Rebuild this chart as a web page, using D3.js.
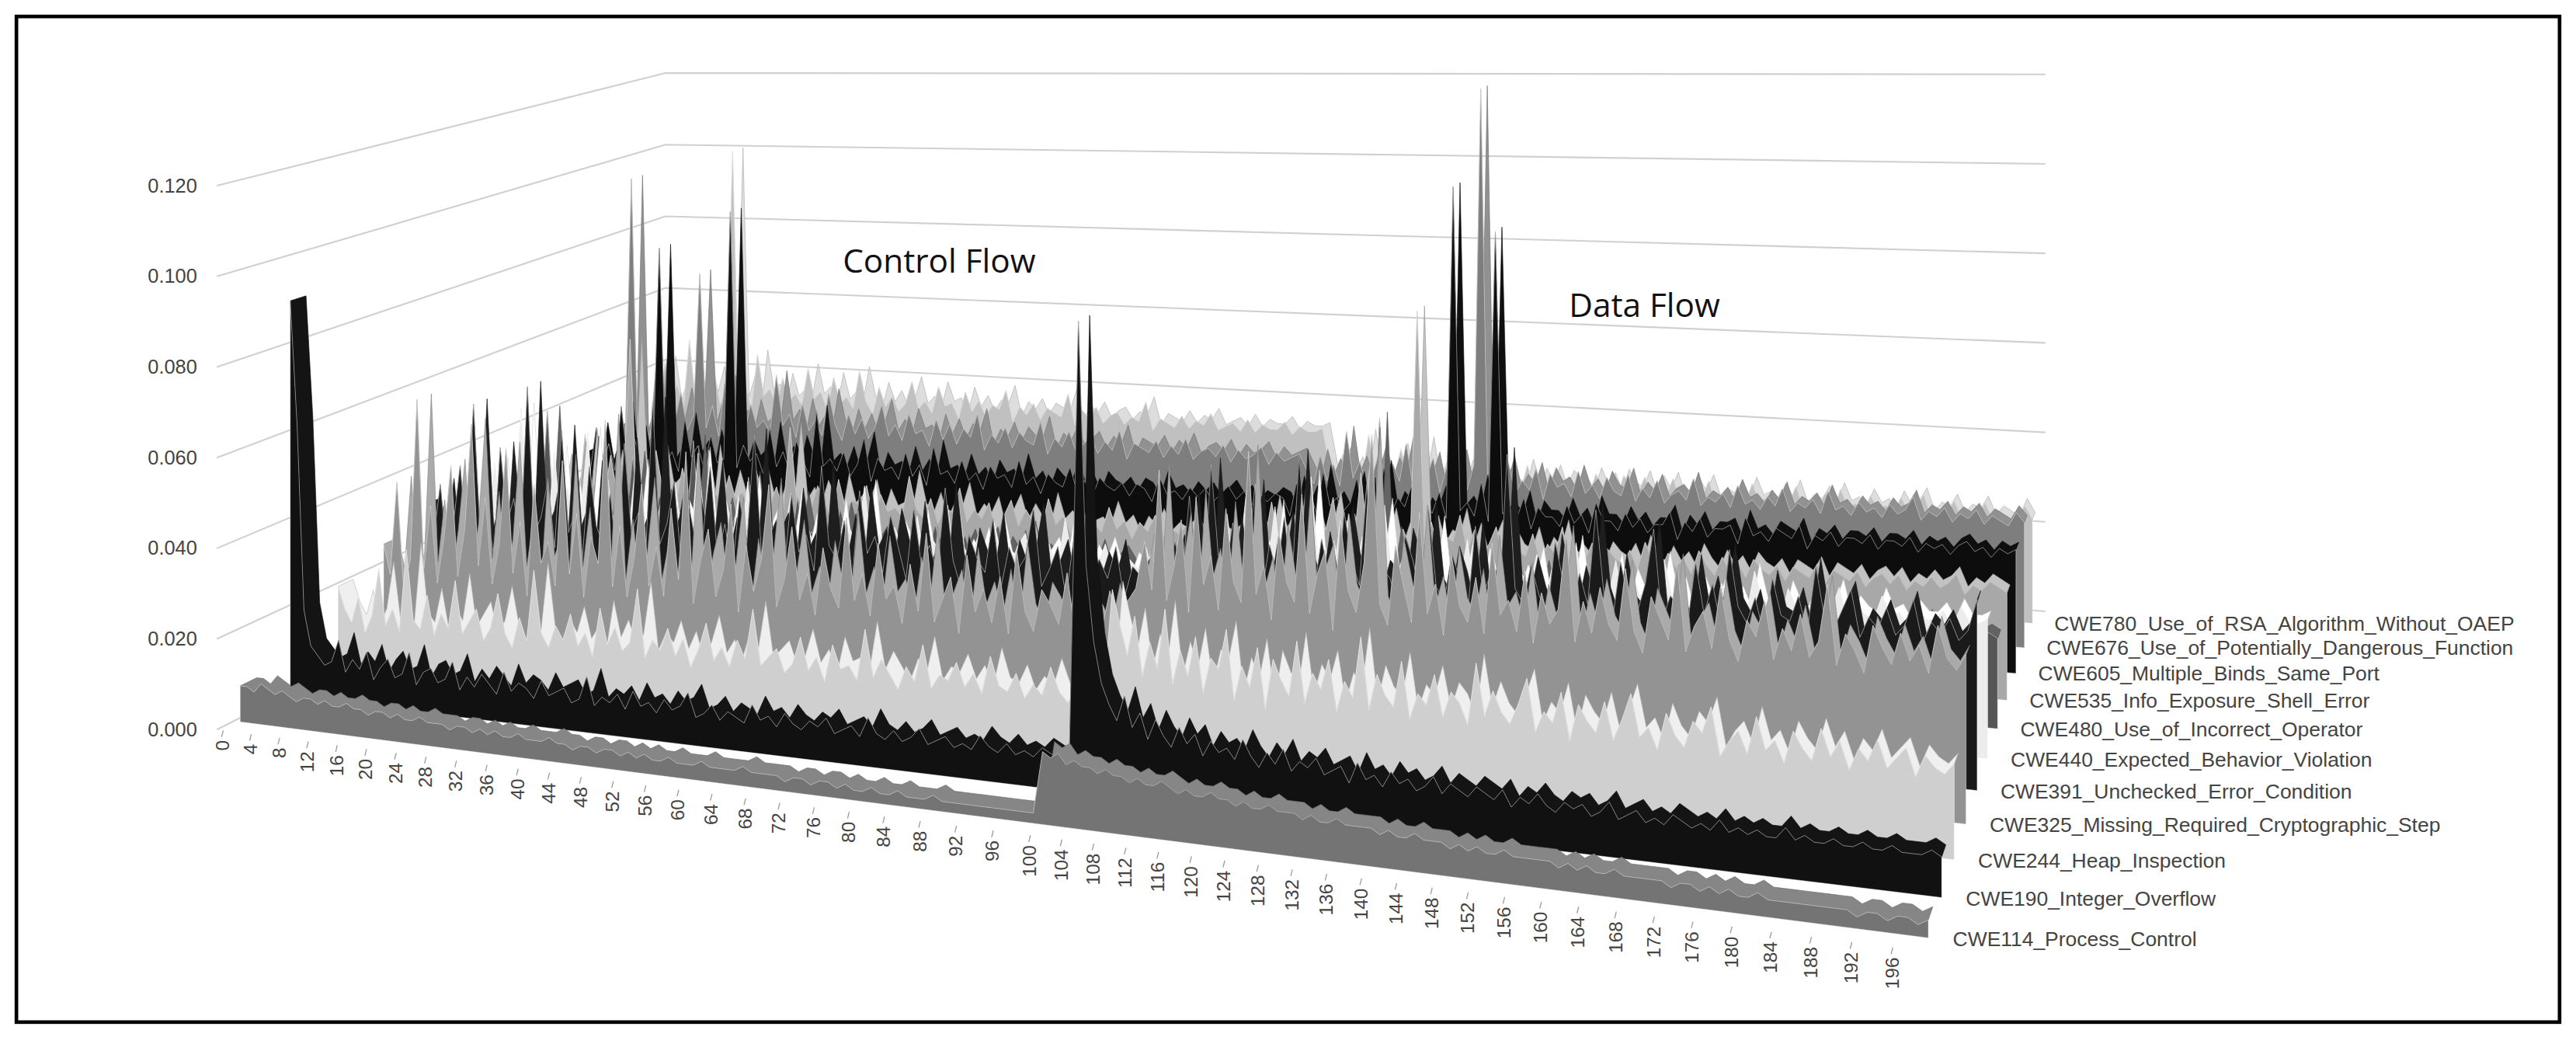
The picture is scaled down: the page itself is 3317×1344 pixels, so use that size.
<!DOCTYPE html>
<html><head><meta charset="utf-8">
<script src="https://cdn.jsdelivr.net/npm/d3@7"></script>
<style>body{margin:0;background:#fff}</style></head>
<body><svg id="c" width="3317" height="1344" viewBox="0 0 1568 635.3"></svg>
<script>
const seriesNames=["CWE114_Process_Control","CWE190_Integer_Overflow","CWE244_Heap_Inspection","CWE325_Missing_Required_Cryptographic_Step","CWE391_Unchecked_Error_Condition","CWE440_Expected_Behavior_Violation","CWE480_Use_of_Incorrect_Operator","CWE535_Info_Exposure_Shell_Error","CWE605_Multiple_Binds_Same_Port","CWE676_Use_of_Potentially_Dangerous_Function","CWE780_Use_of_RSA_Algorithm_Without_OAEP"];
const seriesColors=["#747474","#111111","#cfcfcf","#939393","#1a1a1a","#ececec","#565656","#a8a8a8","#0d0d0d","#7e7e7e","#c0c0c0"];
const yTicks=[0,0.02,0.04,0.06,0.08,0.1,0.12];
const yTickLabels=["0.000","0.020","0.040","0.060","0.080","0.100","0.120"];
// values in thousandths
const s0=[8,8,7,9,8,7,8,7,6,7,7,6,7,6,6,7,6,6,5,6,6,5,6,5,5,6,5,5,5,4,5,5,4,5,4,5,4,4,5,4,4,4,5,4,4,3,4,4,3,4,4,3,4,3,4,3,3,4,3,3,3,4,3,3,3,3,4,3,3,3,3,2,3,3,2,3,3,2,3,2,2,3,2,2,3,2,2,2,3,2,2,2,2,2,2,2,2,2,2,2,
14,13,14,12,13,12,12,11,12,11,11,10,11,10,10,11,10,9,10,9,9,10,9,9,8,9,8,8,9,8,8,8,7,8,7,7,8,7,7,7,7,6,7,6,6,7,6,6,6,5,6,5,6,5,5,6,5,5,5,5,5,4,5,4,5,4,4,5,4,4,4,4,4,3,4,4,3,4,3,4,3,3,4,3,3,3,3,3,3,3,3,3,2,3,3,2,3,3,2,3];
const s1=[90,62,20,12,10,8,9,14,7,10,8,12,6,9,11,7,8,13,6,9,10,7,8,12,6,9,7,10,8,6,11,7,9,8,6,10,7,8,9,6,7,12,6,8,7,9,6,10,7,8,6,9,7,8,11,6,7,9,6,8,7,6,10,7,8,6,9,7,6,8,7,9,6,7,8,6,10,7,6,8,6,7,9,6,7,8,6,7,6,9,7,6,8,6,7,6,8,7,6,7,
93,45,30,22,18,15,20,14,17,12,16,13,11,15,12,14,10,13,11,12,10,14,11,9,12,10,13,9,11,10,12,9,10,11,8,12,9,10,8,11,9,10,8,9,11,8,10,9,8,10,9,8,10,7,9,8,10,8,7,9,8,9,7,8,10,7,8,9,7,8,7,9,8,7,8,7,9,7,8,7,8,7,7,9,7,8,7,7,8,7,7,8,7,7,8,7,7,7,8,7];
const s2=[20,15,12,18,10,14,25,12,16,11,30,14,12,20,11,16,13,24,12,15,18,11,14,22,13,10,17,12,28,14,11,16,13,19,12,15,10,21,13,17,12,14,26,11,15,13,18,12,16,10,14,20,12,15,11,17,13,24,12,14,16,11,13,19,12,15,10,18,13,14,11,22,12,16,13,10,15,12,20,11,14,13,17,12,15,11,19,13,12,16,11,14,12,18,13,11,15,12,14,13,
35,28,22,30,18,25,20,32,17,24,19,27,16,23,21,29,15,22,18,26,14,24,20,17,28,16,22,19,25,15,21,18,30,16,23,19,17,26,15,20,18,24,16,21,19,15,27,17,22,18,16,20,25,15,19,17,23,14,21,18,16,22,15,19,24,16,18,14,21,17,15,20,18,23,14,17,19,15,22,16,18,14,20,17,15,21,16,19,14,18,16,20,15,17,19,14,18,16,15,17];
const s3=[25,18,40,15,22,60,20,35,17,28,45,19,30,55,22,38,18,27,50,21,33,16,42,24,29,19,48,22,36,17,31,25,58,20,34,18,27,44,21,30,19,39,23,52,18,28,35,20,26,41,17,32,22,29,46,19,25,37,21,27,18,33,24,20,40,22,28,19,35,23,26,18,31,21,38,19,24,29,17,34,22,27,20,30,18,36,23,19,28,25,21,32,18,26,24,20,29,22,27,30,
40,30,55,28,35,45,26,50,32,38,27,48,33,29,60,31,37,26,44,34,30,52,28,36,41,25,47,33,29,39,65,31,27,43,35,28,50,30,36,26,42,32,29,38,27,45,31,34,28,40,26,36,30,33,48,27,35,29,38,31,28,42,30,26,37,33,29,44,27,32,35,28,40,30,26,34,31,38,27,33,29,36,28,31,42,27,33,30,26,35,31,28,34,29,32,27,36,30,28,31];
const s4=[30,22,35,18,26,40,20,55,24,30,19,45,27,33,21,60,25,29,38,22,50,26,31,20,42,28,24,36,19,48,27,32,22,58,25,30,40,21,35,26,28,44,23,31,20,37,27,52,24,29,33,21,39,26,30,22,46,28,25,34,20,41,27,31,23,36,29,22,38,25,30,24,43,27,21,33,28,25,37,22,31,26,29,40,23,27,32,21,35,28,24,30,26,33,22,29,27,31,25,28,
35,28,45,30,25,52,33,29,40,27,31,48,26,36,30,42,28,55,32,27,38,30,25,44,34,29,50,27,33,31,26,40,35,28,46,30,27,37,32,25,43,29,34,27,58,31,28,36,30,26,41,33,27,35,29,48,31,26,38,30,28,34,45,27,32,30,26,39,29,35,27,42,31,28,33,26,37,30,29,34,27,40,30,28,32,36,27,31,29,33,28,30,35,27,31,29,32,28,30,36];
const s5=[25,20,32,21,36,18,27,23,50,21,28,24,19,40,22,31,20,26,45,21,24,34,19,28,22,38,21,26,23,33,20,29,25,21,42,23,27,19,31,24,21,36,20,26,30,22,23,34,20,28,23,25,21,32,19,27,23,37,21,26,22,28,24,20,31,21,26,23,34,20,25,22,28,19,31,23,21,26,29,20,24,27,21,33,23,20,26,23,28,22,20,25,23,28,21,24,26,21,23,22,
28,25,35,23,32,27,42,24,30,26,39,23,33,28,25,46,26,31,24,37,27,26,34,23,29,41,25,28,33,23,30,26,38,24,28,26,35,23,32,27,25,44,24,29,26,33,23,31,28,26,36,24,28,27,25,33,23,30,26,28,24,34,26,29,23,31,27,25,30,26,28,24,33,26,28,23,30,26,25,29,27,26,31,24,28,26,25,30,26,27,24,28,26,26,28,25,29,26,26,27];
const s6=[18,15,30,14,22,17,45,16,20,17,25,15,38,19,16,28,15,21,18,35,17,20,16,26,19,16,23,18,40,15,21,18,25,16,22,17,32,19,16,24,18,21,16,28,18,20,15,23,17,26,19,16,22,18,21,16,25,18,15,22,19,17,24,16,20,18,22,16,19,23,16,21,18,17,25,16,20,18,21,16,20,18,17,22,16,19,21,18,16,20,18,17,21,16,19,18,20,17,18,19,
20,17,24,16,22,19,28,17,23,19,18,32,17,21,20,26,17,22,19,25,18,55,19,30,18,22,20,17,27,19,23,19,21,18,26,20,17,22,19,24,19,20,18,25,19,21,17,21,19,23,18,20,18,22,19,19,21,18,24,19,20,18,21,19,17,21,19,23,18,20,19,17,21,19,20,18,20,19,17,22,19,20,18,21,19,18,21,18,20,19,18,21,18,20,19,18,21,18,19,18];
const s7=[22,18,28,20,25,17,35,21,24,19,30,20,23,60,21,26,18,32,22,24,19,28,21,25,17,33,22,20,27,21,23,19,29,22,20,25,19,40,21,24,20,26,22,18,28,21,23,22,27,19,25,21,22,20,30,22,20,25,19,23,22,28,20,23,21,25,18,22,26,20,24,21,19,27,21,23,19,24,21,22,20,26,21,23,19,23,21,25,20,22,21,23,21,24,20,22,21,23,21,22,
24,21,30,22,26,21,34,23,28,22,25,32,21,27,22,38,22,25,23,29,21,26,22,75,23,28,22,25,24,30,22,27,21,24,28,21,26,23,22,27,21,25,23,29,21,24,22,26,21,25,23,22,25,21,27,23,21,25,22,24,21,26,23,21,25,22,24,21,25,23,22,24,21,24,23,22,25,21,24,23,22,24,21,23,24,22,24,21,23,22,24,22,23,25,21,23,22,24,23,22];
const s8=[25,20,32,22,28,21,38,23,30,25,34,23,80,24,27,22,36,26,29,23,32,25,26,90,24,30,26,28,23,35,25,29,24,32,27,23,40,26,28,25,30,24,27,34,23,29,26,27,24,31,25,28,23,33,26,27,24,30,25,27,23,29,26,27,24,31,25,27,23,28,26,25,30,24,27,23,28,26,25,27,24,27,26,23,29,25,26,24,27,25,27,24,26,28,25,27,24,26,25,27,
26,22,30,24,28,23,33,25,27,24,26,32,23,29,25,35,24,28,26,31,23,27,25,30,24,100,26,28,25,33,24,90,26,27,25,30,23,28,26,26,24,29,25,27,23,30,26,26,24,28,25,27,24,26,26,29,23,27,25,28,24,26,26,27,23,29,25,26,24,27,26,25,28,23,26,25,27,24,26,26,25,27,24,26,26,25,27,24,26,25,26,24,26,27,25,26,24,26,25,26];
const s9=[28,24,95,26,32,25,45,27,34,30,38,28,32,70,29,35,27,42,31,33,28,36,30,32,29,44,31,34,28,37,30,33,29,40,32,28,35,30,34,29,32,38,30,33,29,36,31,32,28,35,30,34,29,33,31,37,28,32,30,34,29,33,31,30,36,28,32,30,34,29,31,33,29,32,30,35,28,32,31,30,33,29,32,30,34,29,31,32,30,33,29,32,30,31,33,29,32,30,31,32,
28,25,32,26,30,25,38,27,31,26,28,34,26,31,27,36,26,29,28,33,25,31,27,34,26,32,120,28,31,27,33,26,29,27,32,25,31,28,29,26,32,27,29,26,31,28,27,32,26,29,27,31,26,28,29,27,32,26,28,27,29,26,31,27,28,26,29,27,31,26,28,27,29,26,31,27,28,26,29,27,28,26,29,27,28,31,26,28,27,29,26,28,27,29,26,28,27,26,29,27];
const s10=[32,28,42,30,36,29,48,31,38,33,40,31,35,100,32,38,30,45,34,36,31,39,33,35,32,42,34,36,31,40,33,35,32,42,34,31,38,33,36,32,34,40,33,35,32,39,34,35,31,38,33,36,32,35,34,39,31,35,33,36,32,35,34,33,39,31,35,33,36,32,34,35,32,34,33,38,31,34,33,32,35,32,34,33,36,32,33,34,32,35,32,34,33,33,35,32,34,33,33,34,
24,22,28,23,26,22,33,23,27,22,24,30,22,27,23,32,22,26,24,29,22,27,23,30,22,27,24,26,23,22,28,22,26,23,27,22,26,24,24,22,27,23,26,22,27,24,23,27,22,26,23,27,22,24,26,23,27,22,24,23,26,22,27,23,24,22,26,23,27,22,24,23,26,22,27,23,24,22,26,23,24,22,26,23,24,27,22,24,23,26,22,24,23,26,22,24,23,22,26,23];
const seriesValues=[s0,s1,s2,s3,s4,s5,s6,s7,s8,s9,s10];

const svg=d3.select("#c");
const FONT="'Liberation Sans', Arial, sans-serif";
svg.append("rect").attr("x",10).attr("y",10).attr("width",1548).attr("height",612).attr("fill","#fff").attr("stroke","#000").attr("stroke-width",2.2);

const P0=[132,444],P1=[1178,580],P2=[1245,372],P3=[405,306];
const dx1=P1[0]-P2[0],dx2=P3[0]-P2[0],dx3=P0[0]-P1[0]+P2[0]-P3[0];
const dy1=P1[1]-P2[1],dy2=P3[1]-P2[1],dy3=P0[1]-P1[1]+P2[1]-P3[1];
const den=dx1*dy2-dx2*dy1;
const g=(dx3*dy2-dx2*dy3)/den,h=(dx1*dy3-dx3*dy1)/den;
const a=P1[0]-P0[0]+g*P1[0],b=P3[0]-P0[0]+h*P3[0],c=P0[0];
const d=P1[1]-P0[1]+g*P1[1],e=P3[1]-P0[1]+h*P3[1],f=P0[1];
const H0=331;
function proj(u,v,val){const w=g*u+h*v+1;return [(a*u+b*v+c)/w,(d*u+e*v+f)/w-H0*val/w];}

const N=200;
const xs=d3.scaleLinear().domain([0,100,N-1]).range([0.005,0.546,0.995]);
const zs=d3.scaleLinear().domain([0,seriesNames.length-1]).range([0.03,0.95]);
const ys=d3.scaleLinear().domain([0,0.12]).range([0,1]);

const grid=svg.append("g").attr("stroke","#d0d0d0").attr("stroke-width",1).attr("fill","none");
yTicks.forEach(t=>{
  const A=proj(0,0,ys(t)),B=proj(0,1,ys(t)),C=proj(1,1,ys(t));
  grid.append("path").attr("d",`M${A}L${B}L${C}`);
});
yTicks.forEach((t,i)=>{
  const p=proj(0,0,ys(t));
  svg.append("text").attr("x",p[0]-12).attr("y",p[1]+4).attr("text-anchor","end")
   .attr("font-family",FONT).attr("font-size",12).attr("fill","#444").text(yTickLabels[i]);
});

const line=d3.line();
const dv=0.03;
for(let si=seriesNames.length-1;si>=0;si--){
  const v=zs(si), vals=seriesValues[si].map(x=>x/1000);
  const col=seriesColors[si];
  const front=vals.map((y,i)=>proj(xs(i),v,ys(y)));
  const back=vals.map((y,i)=>proj(xs(i),v+dv,ys(y)));
  const top=front.concat(back.slice().reverse());
  svg.append("path").attr("d",line(top)+"Z").attr("fill",d3.color(col).brighter(0.4)).attr("stroke",d3.color(col).darker(0.3)).attr("stroke-width",0.3);
  const poly=[proj(xs(0),v,0)].concat(front,[proj(xs(N-1),v,0)]);
  svg.append("path").attr("d",line(poly)+"Z").attr("fill",col).attr("stroke","#ffffff").attr("stroke-width",0.35).attr("stroke-opacity",0.6);
}

const xTickVals=d3.range(0,200,4);
xTickVals.forEach(t=>{
  const p=proj(xs(t),0,0);
  svg.append("line").attr("x1",p[0]).attr("y1",p[1]).attr("x2",p[0]-1).attr("y2",p[1]+4).attr("stroke","#999").attr("stroke-width",0.6);
  svg.append("text").attr("transform",`translate(${p[0]+3.5},${p[1]+6}) rotate(-90)`).attr("text-anchor","end")
   .attr("font-family",FONT).attr("font-size",11.5).attr("fill","#444").text(t);
});
seriesNames.forEach((n,i)=>{
  const p=proj(1,zs(i),0);
  svg.append("text").attr("x",p[0]+8).attr("y",p[1]+4).attr("font-family",FONT).attr("font-size",12.5).attr("fill","#444").text(n);
});
svg.append("text").attr("x",513).attr("y",166).attr("font-family","'Open Sans',sans-serif").attr("font-size",20).attr("fill","#111").text("Control Flow");
svg.append("text").attr("x",955).attr("y",193).attr("font-family","'Open Sans',sans-serif").attr("font-size",20).attr("fill","#111").text("Data Flow");
</script></body></html>
